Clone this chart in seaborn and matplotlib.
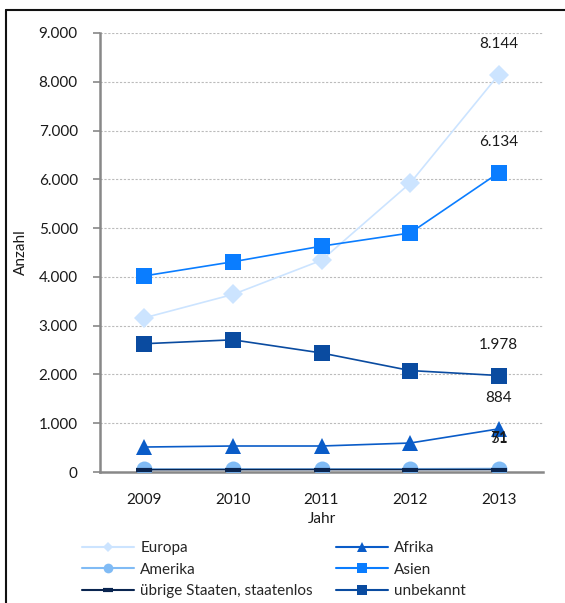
import matplotlib
matplotlib.use("Agg")
import matplotlib.pyplot as plt
from matplotlib.lines import Line2D
import seaborn as sns
import pandas as pd

# Data
years = ["2009", "2010", "2011", "2012", "2013"]
europa = [3160, 3640, 4340, 5920, 8144]
afrika = [512, 533, 533, 594, 884]
amerika = [60, 62, 63, 65, 71]
asien = [4020, 4310, 4630, 4900, 6134]
uebrige = [48, 49, 50, 50, 51]
unbekannt = [2630, 2710, 2440, 2080, 1978]

series = [
    # name, values, color, marker, markersize, legend markersize
    ("Europa", europa, "#CCE4FF", "D", 10.5, 5),
    ("Amerika", amerika, "#80BBF5", "o", 11.5, 7),
    ("übrige Staaten, staatenlos", uebrige, "#0A2550", "_", 11, 7),
    ("Afrika", afrika, "#0A5CC8", "^", 12, 7),
    ("Asien", asien, "#0A7DFF", "s", 11, 7),
    ("unbekannt", unbekannt, "#0A4BA0", "s", 11.5, 7),
]

sns.set_theme(style="white")
plt.rcParams["font.family"] = ["Lato", "DejaVu Sans"]
plt.rcParams["font.size"] = 10

FS = 11
TXT = "#1a1a1a"

fig = plt.figure(figsize=(5.65, 6.03), dpi=100)
ax = fig.add_axes([100 / 565, 1 - 472 / 603, 443 / 565, 439 / 603])

x = list(range(len(years)))
handles = []
for name, vals, color, marker, ms, lms in series:
    df = pd.DataFrame({"x": x, "y": vals})
    mew = 3 if marker == "_" else 0
    sns.lineplot(data=df, x="x", y="y", ax=ax, color=color, lw=1.2,
                 marker=marker, markersize=ms, markeredgewidth=mew,
                 markeredgecolor=color, zorder=3)
    handles.append(Line2D([], [], color=color, lw=1.5, marker=marker,
                          markersize=lms, markeredgewidth=(3 if marker == "_" else 0),
                          markeredgecolor=color, label=name))


def fmt(v):
    return f"{int(v):,}".replace(",", ".")


# Value labels for the last year
for name, vals, color, marker, ms, lms in series:
    ax.annotate(fmt(vals[-1]), (x[-1], vals[-1]), xytext=(0, 22),
                textcoords="offset points", ha="center", va="center",
                fontsize=FS, color=TXT, zorder=5)

ax.set_xlim(-0.5, 4.5)
ax.set_ylim(0, 9000)
ax.set_yticks(range(0, 9001, 1000))
ax.set_yticklabels([fmt(v) for v in range(0, 9001, 1000)], fontsize=FS, color=TXT)
ax.set_xticks(x)
ax.set_xticklabels(years, fontsize=FS, color=TXT)
ax.set_xticks([i + 0.5 for i in range(-1, 5)], minor=True)
ax.tick_params(axis="x", which="major", length=0, pad=15)
ax.tick_params(axis="x", which="minor", length=5, color="#888888", width=1.5, direction="out")
ax.tick_params(axis="y", length=5, color="#888888", width=1.2, direction="out", pad=11, left=True)

for y in range(1000, 9001, 1000):
    ax.axhline(y, color="#BBBBBB", lw=0.8, ls=(0, (2, 1.5)), zorder=1)

for s in ["top", "right"]:
    ax.spines[s].set_visible(False)
for s in ["left", "bottom"]:
    ax.spines[s].set_color("#888888")
    ax.spines[s].set_linewidth(1.8)

ax.set_xlabel("Jahr", fontsize=FS, color=TXT, labelpad=4)
ax.set_ylabel("Anzahl", fontsize=FS, color=TXT, labelpad=8)

fig.legend(handles=handles, ncol=2, loc="upper left",
           bbox_to_anchor=(76 / 565, 1 - 535 / 603), frameon=False,
           fontsize=FS, handlelength=3.4, handletextpad=0.4,
           columnspacing=1.5, labelspacing=0.5, borderaxespad=0)

# Outer frame
fig.add_artist(Line2D([6 / 565, 6 / 565], [0, 1 - 10 / 603], color="#111111", lw=1.5,
                      transform=fig.transFigure))
fig.add_artist(Line2D([6 / 565, 1], [1 - 10 / 603, 1 - 10 / 603], color="#111111", lw=1.5,
                      transform=fig.transFigure))

fig.savefig("out.png", dpi=100)
